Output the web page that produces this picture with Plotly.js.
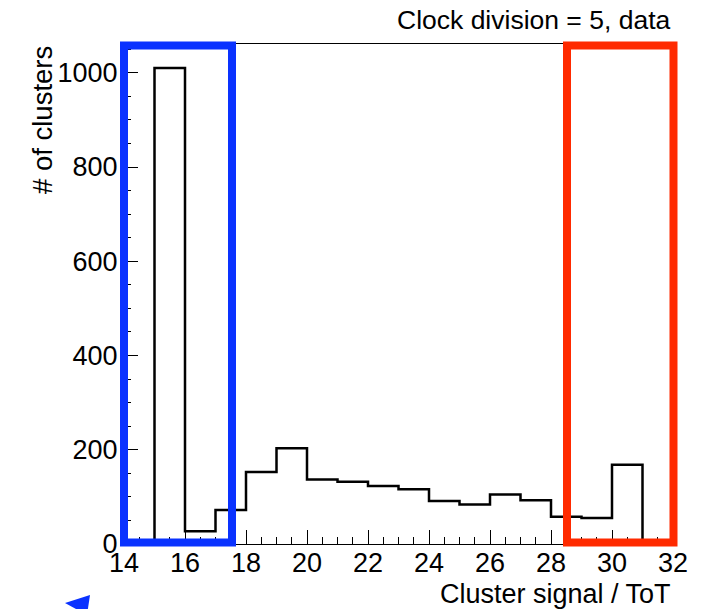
<!DOCTYPE html>
<html>
<head>
<meta charset="utf-8">
<script src="https://cdn.plot.ly/plotly-3.0.1.min.js"></script>
<style>html,body{margin:0;padding:0;background:#fff;}#chart{width:714px;height:609px;}</style>
</head>
<body>
<div id="chart"></div>
<script>
// Histogram bins (lower edges, width 1) and counts
const binLow = [14, 15, 16, 17, 18, 19, 20, 21, 22, 23, 24, 25, 26, 27, 28, 29, 30, 31];
const counts = [0, 1010, 27, 72, 153, 203, 137, 132, 123, 116, 91, 84, 105, 93, 58, 55, 168, 0];
const xTickVals = [14, 16, 18, 20, 22, 24, 26, 28, 30, 32];
const yTickVals = [0, 200, 400, 600, 800, 1000];

const binWidth = 1;
const xs = binLow.concat([binLow[binLow.length - 1] + binWidth]);
const ys = counts.concat([counts[counts.length - 1]]);

const FONT = '"Liberation Sans", Arial, Helvetica, sans-serif';

const trace = {
  type: 'scatter', mode: 'lines',
  x: xs, y: ys,
  line: {shape: 'hv', color: '#000', width: 2.5},
  hoverinfo: 'skip', showlegend: false
};

const W = 549, H = 500; // plot area px
function px(x) { return (x - 124) / W; }
function py(y) { return (544 - y) / H; }

const layout = {
  width: 714, height: 609,
  margin: {l: 124, r: 41, t: 44, b: 65},
  paper_bgcolor: '#fff', plot_bgcolor: '#fff',
  font: {family: FONT, color: '#000'},
  showlegend: false,
  xaxis: {
    range: [14, 32], tickvals: xTickVals, ticktext: xTickVals.map(String),
    ticks: 'inside', ticklen: 14, tickwidth: 1, tickcolor: '#000',
    showline: true, linecolor: '#000', linewidth: 1, mirror: true,
    showgrid: false, zeroline: false, ticklabelstandoff: -5,
    tickfont: {size: 27, family: FONT},
    minor: {dtick: 0.5, ticks: 'inside', ticklen: 7, tickcolor: '#000', showgrid: false}
  },
  yaxis: {
    range: [0, 1061], tickvals: yTickVals, ticktext: yTickVals.map(String),
    ticks: 'inside', ticklen: 14, tickwidth: 1, tickcolor: '#000',
    showline: true, linecolor: '#000', linewidth: 1, mirror: true,
    showgrid: false, zeroline: false,
    tickfont: {size: 27, family: FONT},
    minor: {dtick: 50, ticks: 'inside', ticklen: 7, tickcolor: '#000', showgrid: false}
  },
  annotations: [
    {text: 'Clock division = 5, data', xref: 'paper', yref: 'paper',
     x: 1.0, y: py(20), xanchor: 'right', yanchor: 'middle', showarrow: false,
     font: {size: 26.5, family: FONT, color: '#000'}},
    {text: 'Cluster signal / ToT', xref: 'paper', yref: 'paper',
     x: 1.0, y: py(594), xanchor: 'right', yanchor: 'middle', showarrow: false,
     font: {size: 27, family: FONT, color: '#000'}},
    {text: '# of clusters', xref: 'paper', yref: 'paper', textangle: -90,
     x: px(42), y: py(44), xanchor: 'center', yanchor: 'top', showarrow: false,
     font: {size: 27.5, family: FONT, color: '#000'}}
  ],
  shapes: [
    {type: 'rect', xref: 'paper', yref: 'paper',
     x0: px(124), x1: px(232), y0: py(542.5), y1: py(45.5),
     line: {color: '#0a32ff', width: 8}, fillcolor: 'rgba(0,0,0,0)'},
    {type: 'rect', xref: 'paper', yref: 'paper',
     x0: px(567), x1: px(673.5), y0: py(542.5), y1: py(45.5),
     line: {color: '#ff2a00', width: 8}, fillcolor: 'rgba(0,0,0,0)'},
    {type: 'path', xref: 'paper', yref: 'paper',
     path: 'M ' + px(65) + ' ' + py(603) + ' L ' + px(90) + ' ' + py(595) + ' L ' + px(87) + ' ' + py(615) + ' Z',
     fillcolor: '#0a32ff', line: {width: 0}}
  ]
};

Plotly.newPlot('chart', [trace], layout, {displayModeBar: false, staticPlot: true});
</script>
</body>
</html>
